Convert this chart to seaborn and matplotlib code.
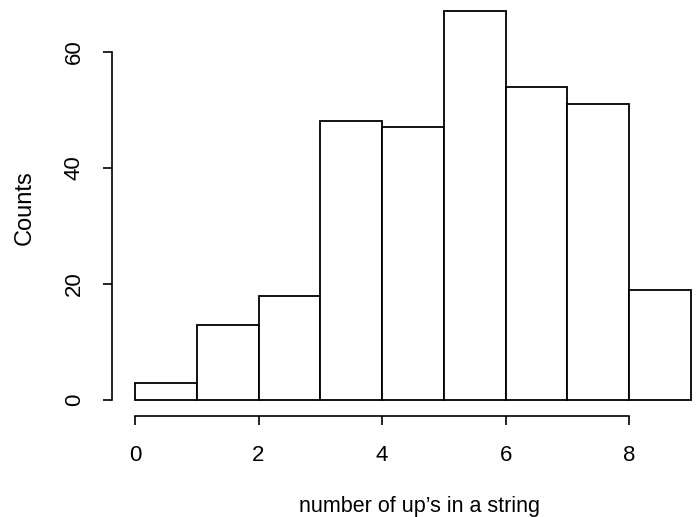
import numpy as np
import pandas as pd
import matplotlib
matplotlib.use("Agg")
import matplotlib.pyplot as plt
import seaborn as sns

# Data (bins of width 1 from 0 to 9)
bin_edges = [0, 1, 2, 3, 4, 5, 6, 7, 8, 9]
counts = [3, 13, 18, 48, 47, 67, 54, 51, 19]
x_ticks = [0, 2, 4, 6, 8]
y_ticks = [0, 20, 40, 60]
x_label = "number of up\u2019s in a string"
y_label = "Counts"

sns.set_theme(style="white")
plt.rcParams['font.family'] = ['Liberation Sans', 'DejaVu Sans']

centers = [(a + b) / 2 for a, b in zip(bin_edges[:-1], bin_edges[1:])]
df = pd.DataFrame({"value": centers, "count": counts})

W, H = 696, 517
fig = plt.figure(figsize=(W / 100, H / 100), dpi=100)
ax_left, ax_right, ax_bottom, ax_top = 112, 696, 415.5, 0
ax = fig.add_axes([ax_left / W, (H - ax_bottom) / H,
                   (ax_right - ax_left) / W, (ax_bottom - ax_top) / H])

sns.histplot(data=df, x="value", weights="count", bins=bin_edges,
             color="white", edgecolor="black", linewidth=1.3, alpha=1.0,
             ax=ax)

ax.set_xlim(-0.372, 9.081)
ax.set_ylim(-2.67, 68.9)

for s in ["top", "right"]:
    ax.spines[s].set_visible(False)
ax.spines["left"].set_bounds(0, 60)
ax.spines["bottom"].set_bounds(0, 8)
for s in ["left", "bottom"]:
    ax.spines[s].set_color("black")
    ax.spines[s].set_linewidth(1.2)

ax.set_xticks(x_ticks)
ax.set_xticklabels([str(v) for v in x_ticks])
ax.set_yticks(y_ticks)
ax.set_yticklabels([str(v) for v in y_ticks], rotation=90, va="center")

ax.tick_params(axis="both", which="major", direction="out", length=6.5,
               width=1.2, color="black", labelsize=16, labelcolor="black",
               left=True, bottom=True)
ax.tick_params(axis="x", pad=15)
ax.tick_params(axis="y", pad=13)

ax.set_xlabel(x_label, fontsize=15.5, color="black", labelpad=21)
ax.xaxis.label.set_x(0.526)
ax.set_ylabel(y_label, fontsize=17, color="black", labelpad=20)

fig.savefig("out.png", dpi=100)
